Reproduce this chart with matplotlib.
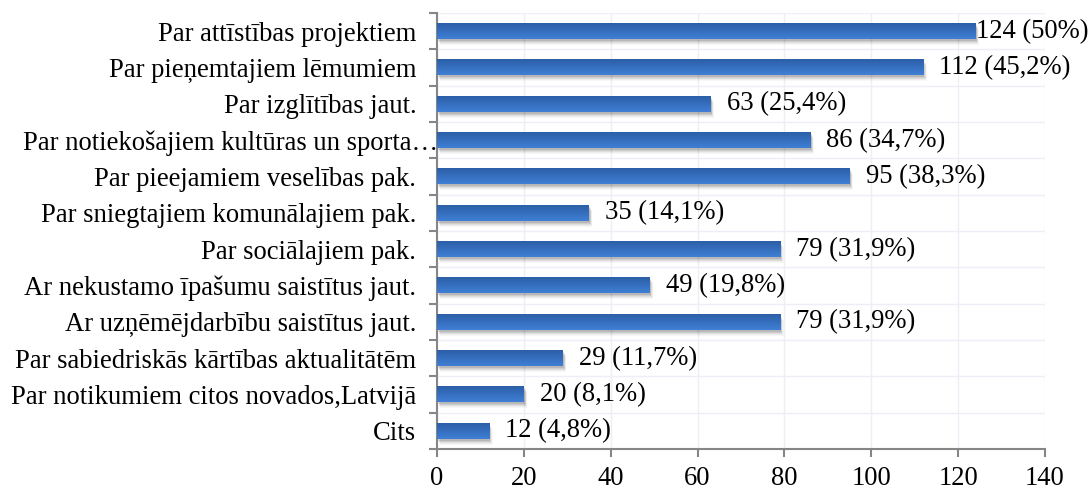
import numpy as np
import matplotlib
matplotlib.use("Agg")
import matplotlib.pyplot as plt
import matplotlib.transforms as mtransforms

categories = [
    "Par attīstības projektiem",
    "Par pieņemtajiem lēmumiem",
    "Par izglītības jaut.",
    "Par notiekošajiem kultūras un sporta…",
    "Par pieejamiem veselības pak.",
    "Par sniegtajiem komunālajiem pak.",
    "Par sociālajiem pak.",
    "Ar nekustamo īpašumu saistītus jaut.",
    "Ar uzņēmējdarbību saistītus jaut.",
    "Par sabiedriskās kārtības aktualitātēm",
    "Par notikumiem citos novados,Latvijā",
    "Cits",
]
counts = [124, 112, 63, 86, 95, 35, 79, 49, 79, 29, 20, 12]
percents = ["50%", "45,2%", "25,4%", "34,7%", "38,3%", "14,1%",
            "31,9%", "19,8%", "31,9%", "11,7%", "8,1%", "4,8%"]
x_ticks = [0, 20, 40, 60, 80, 100, 120, 140]

plt.rcParams["font.family"] = ["Liberation Serif", "DejaVu Serif"]
FS = 19.2

fig = plt.figure(figsize=(10.88, 4.9), dpi=100)
ax = fig.add_axes([0.4017, 0.0837, 0.5588, 0.8898])

n = len(categories)
y = np.arange(n)
bar_h = 0.44

# soft drop shadow under each bar
for k, a in enumerate([0.10, 0.08, 0.06, 0.04, 0.03]):
    off = mtransforms.offset_copy(ax.transData, fig=fig, x=1 + k * 0.6,
                                  y=-(2 + k * 1.0), units="dots")
    ax.barh(y, counts, height=bar_h, color="black", alpha=a, lw=0,
            transform=off, zorder=1)

bars = ax.barh(y, counts, height=bar_h, color="#3a72bf", lw=0, zorder=2)

# vertical gradient fill, lighter on top and darker below
grad = np.linspace(0, 1, 64).reshape(-1, 1)
top = np.array([0.25, 0.50, 0.84])
bot = np.array([0.17, 0.37, 0.65])
img = top + (bot - top) * grad[..., None]
img = img.reshape(64, 1, 3)
for b in bars:
    x0, y0 = b.get_x(), b.get_y()
    w, h = b.get_width(), b.get_height()
    im = ax.imshow(img, extent=[x0, x0 + w, y0, y0 + h], origin="upper",
                   aspect="auto", zorder=3, interpolation="bilinear")
    im.set_clip_path(b)
    b.set_alpha(0)

ax.set_xlim(0, 140)
ax.set_ylim(n - 0.5, -0.5)

for i, (c, p) in enumerate(zip(counts, percents)):
    dx = 0 if c == max(counts) else 11.5
    ax.annotate(f"{c} ({p})", xy=(c, i), xytext=(dx, 0),
                textcoords="offset points", va="center", ha="left",
                fontsize=FS, color="black", zorder=5, annotation_clip=False)

ax.set_yticks(y)
ax.set_yticklabels(categories, fontsize=FS)
ax.set_yticks(np.arange(-0.5, n, 1), minor=True)
ax.tick_params(axis="y", which="major", length=0, pad=15)
ax.tick_params(axis="y", which="minor", length=6, width=1.5, color="#868686",
               direction="out")

# the truncated label runs up to the axis line
for lbl in ax.get_yticklabels():
    if lbl.get_text().endswith("…"):
        lbl.set_transform(lbl.get_transform() +
                          mtransforms.ScaledTranslation(22 / 100, 0,
                                                        fig.dpi_scale_trans))

ax.set_xticks(x_ticks)
ax.set_xticklabels([str(t) for t in x_ticks], fontsize=FS)
ax.tick_params(axis="x", length=6, width=1.5, color="#868686",
               direction="out", pad=6)

ax.grid(axis="x", which="major", color="#eeeef6", lw=1, zorder=0)
ax.grid(axis="y", which="minor", color="#eeeef6", lw=1, zorder=0)
ax.set_axisbelow(True)

for s in ["top", "right"]:
    ax.spines[s].set_visible(False)
for s in ["left", "bottom"]:
    ax.spines[s].set_color("#868686")
    ax.spines[s].set_linewidth(1.5)

fig.savefig("out.png", dpi=100)
